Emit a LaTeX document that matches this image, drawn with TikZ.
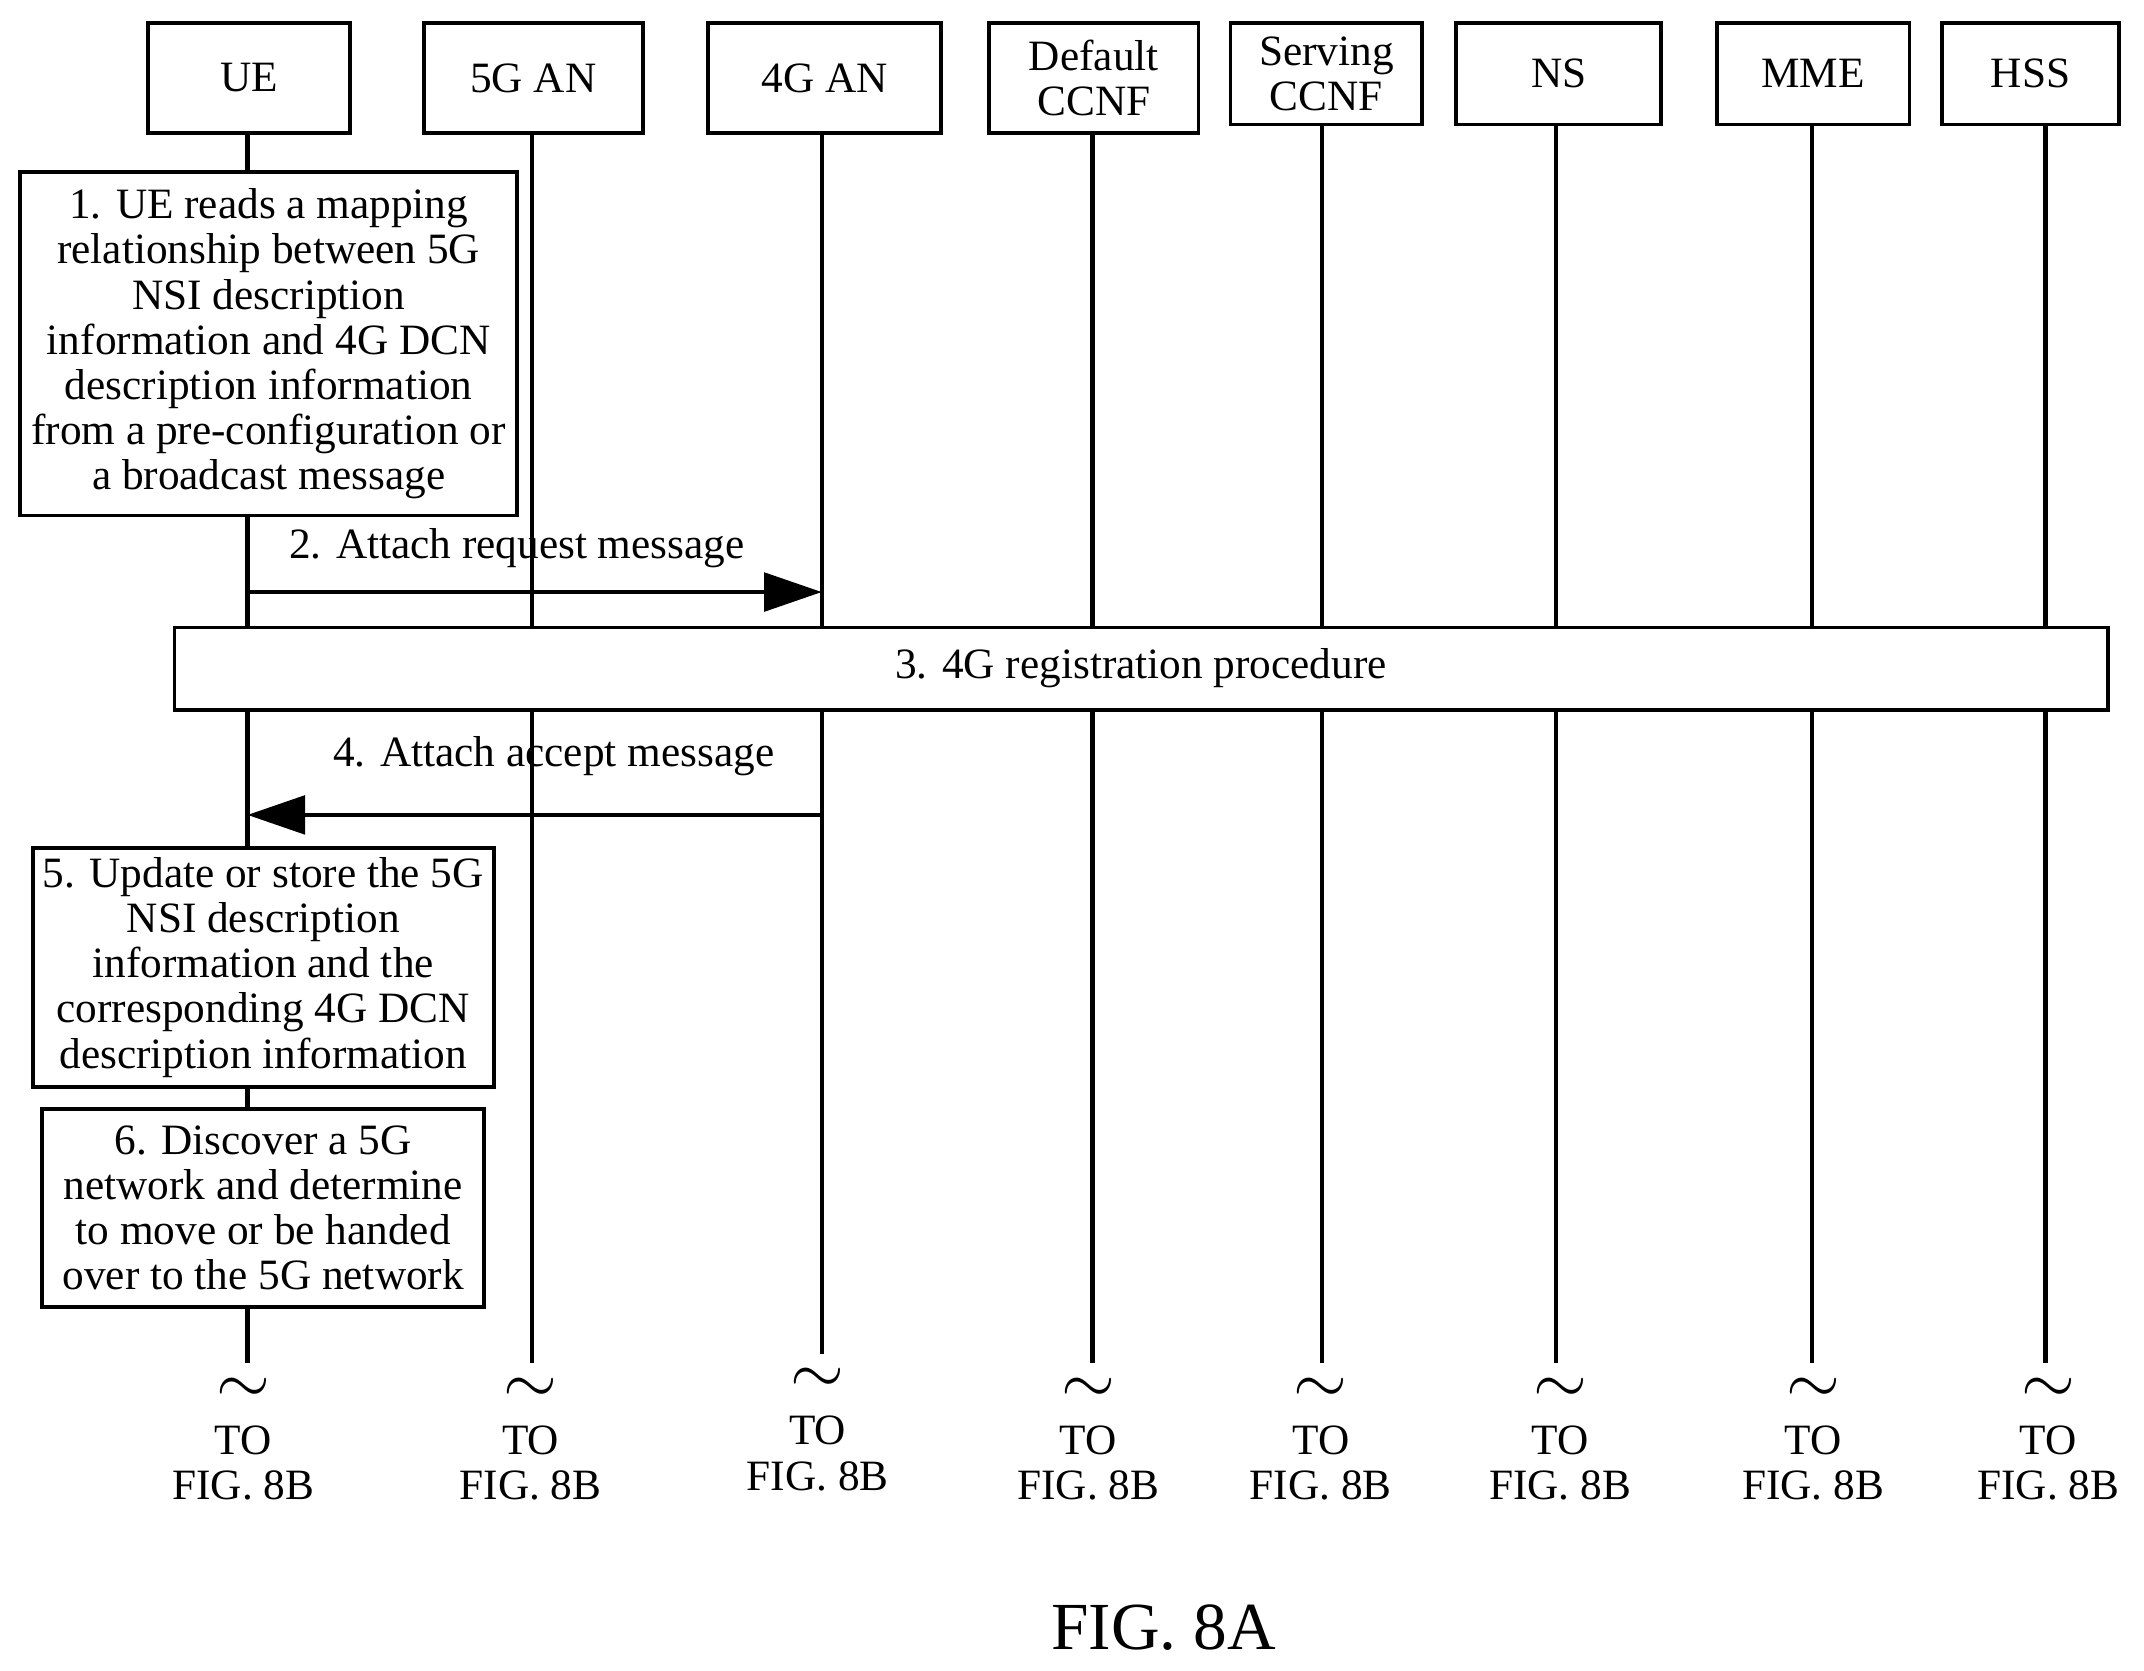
\documentclass[tikz,border=0pt]{standalone}
\usepackage{fontspec}
\setmainfont{Liberation Serif}
\usetikzlibrary{arrows.meta}
\begin{document}
\begin{tikzpicture}[x=0.01cm,y=-0.01cm,
  txt/.style={font=\fontsize{9}{9.4}\selectfont,align=center,inner sep=0},
  box/.style={draw,line width=0.8pt,fill=white},
  life/.style={line width=0.9pt},
  msg/.style={line width=0.9pt,-{Triangle[length=12pt,width=8pt]}},
  tl/.style={font=\fontsize{14}{14}\selectfont,inner sep=0}]
\useasboundingbox (0,0) rectangle (1568,1222);
% lifelines
\foreach \n/\x/\e in {ue/181/997,g5/389/997,g4/601/990,dc/799/997,sc/967/997,ns/1138/997,mme/1325/997,hss/1496/997}{
  \coordinate (\n top) at (\x,90);
  \coordinate (\n bot) at (\x,\e);
  \draw[life] (\n top) -- (\n bot);
}
% headers
\node[box,txt,minimum width=14.8mm,minimum height=8mm] (hue) at (182,57) {UE};
\node[box,txt,minimum width=16mm,minimum height=8mm] (h5) at (390,57) {5G AN};
\node[box,txt,minimum width=17mm,minimum height=8mm] (h4) at (603,57) {4G AN};
\node[box,txt,minimum width=15.3mm,minimum height=8mm] (hdc) at (800,57) {Default\\CCNF};
\node[box,txt,minimum width=14mm,minimum height=7.4mm] (hsc) at (970,54) {Serving\\CCNF};
\node[box,txt,minimum width=15mm,minimum height=7.4mm] (hns) at (1140,54) {NS};
\node[box,txt,minimum width=14.1mm,minimum height=7.4mm] (hmme) at (1326,54) {MME};
\node[box,txt,minimum width=12.9mm,minimum height=7.4mm] (hhss) at (1485,54) {HSS};
% box 1
\node[box,txt,minimum width=36.3mm,minimum height=25.1mm] (b1) at (196.5,251.5) {1. UE reads a mapping\\relationship between 5G\\NSI description\\information and 4G DCN\\description information\\from a pre-configuration or\\a broadcast message};
% msg 2
\coordinate (m2s) at (181,433); \coordinate (m2e) at (601,433);
\draw[msg] (m2s) -- (m2e);
\node[txt] (l2) at (378,401) {2. Attach request message};
% box 3
\node[box,txt,minimum width=141.3mm,minimum height=6mm] (b3) at (834.5,489) {3. 4G registration procedure};
% msg 4
\coordinate (m4s) at (601,596); \coordinate (m4e) at (181,596);
\draw[msg] (m4s) -- (m4e);
\node[txt] (l4) at (405,553) {4. Attach accept message};
% box 5
\node[box,txt,minimum width=33.7mm,minimum height=17.5mm] (b5) at (192.5,707.5) {5. Update or store the 5G\\NSI description\\information and the\\corresponding 4G DCN\\description information};
% box 6
\node[box,txt,minimum width=32.3mm,minimum height=14.5mm] (b6) at (192.5,883.5) {6. Discover a 5G\\network and determine\\to move or be handed\\over to the 5G network};
% tildes and labels
\foreach \n/\x/\y in {ue/178/1017,g5/388/1017,g4/598/1010,dc/796/1017,sc/966/1017,ns/1141/1017,mme/1326/1017,hss/1498/1017}{
  \node[tl] (t\n) at (\x,\y) {$\sim$};
  \node[txt,anchor=north] (to\n) at (\x,\y+25) {TO\\FIG. 8B};
}
\node[txt,font=\fontsize{14}{14}\selectfont] (cap) at (851,1190) {FIG. 8A};
\end{tikzpicture}
\end{document}
